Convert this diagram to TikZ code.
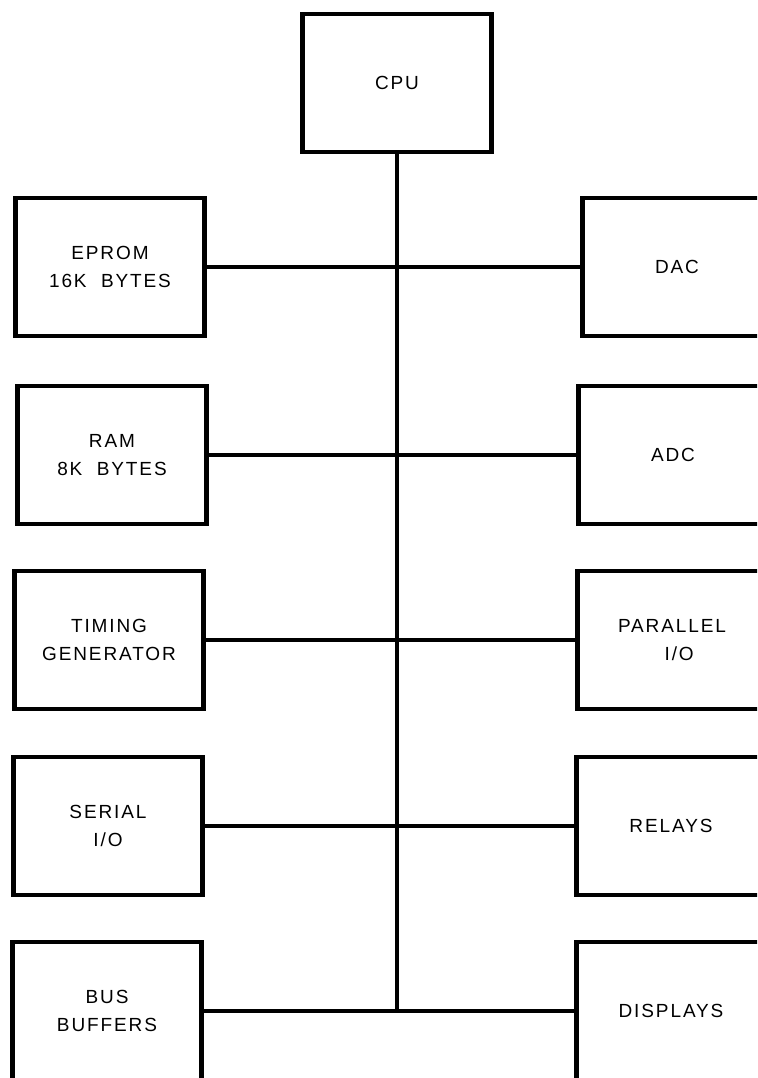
\documentclass[tikz,border=0pt]{standalone}
\usepackage{fontspec}
\setmainfont[LetterSpace=10]{Liberation Sans}
\usepackage{tikz}

\begin{document}
\begin{tikzpicture}[x=0.5pt, y=-0.5pt,
    blk/.style={draw, line width=2.2pt, minimum width=94.5pt, minimum height=69pt,
        inner sep=0pt, align=center, font=\fontsize{9.5}{14}\selectfont},
    bus/.style={line width=1.8pt}]
    \useasboundingbox (0,0) rectangle (757,1078);
    \clip (0,0) rectangle (757,1078);

    % Processeur
    \node[blk] (cpu) at (397,83) {CPU};

    % Blocs de gauche
    \node[blk] (eprom) at (110,267) {EPROM\\16K\ \ BYTES};
    \node[blk] (ram) at (112,455) {RAM\\8K\ \ BYTES};
    \node[blk] (timing) at (109,640) {TIMING\\GENERATOR};
    \node[blk] (serial) at (108,826) {SERIAL\\I/O};
    \node[blk] (buffers) at (107,1011) {BUS\\BUFFERS};

    % Blocs de droite
    \node[blk] (dac) at (677,267) {DAC};
    \node[blk] (adc) at (673,455) {ADC};
    \node[blk] (parallel) at (672,640) {PARALLEL\\\ \ I/O};
    \node[blk] (relays) at (671,826) {RELAYS};
    \node[blk] (displays) at (671,1011) {DISPLAYS};

    % Bus principal
    \coordinate (busend) at (cpu.south |- buffers.east);
    \draw[bus] (cpu) -- (busend);

    % Liaisons
    \draw[bus] (eprom) -- (dac);
    \draw[bus] (ram) -- (adc);
    \draw[bus] (timing) -- (parallel);
    \draw[bus] (serial) -- (relays);
    \draw[bus] (buffers) -- (displays);
\end{tikzpicture}
\end{document}
